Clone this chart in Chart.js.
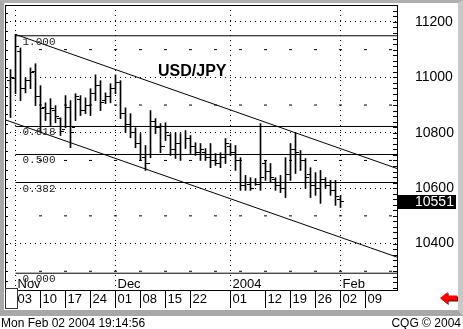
<!DOCTYPE html>
<html>
<head>
<meta charset="utf-8">
<script src="https://cdn.jsdelivr.net/npm/chart.js@4.4.1/dist/chart.umd.min.js"></script>
<style>
  html, body { margin: 0; padding: 0; background: #fff; }
  body { position: relative; width: 463px; height: 329px; overflow: hidden; font-family: "Liberation Sans", Arial, sans-serif; }
  #frame { position: absolute; left: 0; top: 0; width: 463px; height: 316px; box-sizing: border-box;
    border-style: solid; border-width: 3px 5px 6px 4px; border-color: #b0b0b0 #c8c8c8 #a8a8a8 #a8a8a8; }
  #chart { position: absolute; left: 0; top: 0; }
  #title { position: absolute; left: 158px; top: 63px; font: bold 16px/16px "Liberation Sans", Arial, sans-serif; color: #000; }
  #corner { position: absolute; left: 5px; top: 288px; width: 11px; height: 19px; border: 1px solid #333; background: #fff; }
  #arrow, #arrowShade { position: absolute; width: 17px; height: 12px;
    clip-path: polygon(0 50%, 45% 0, 45% 30%, 100% 30%, 100% 70%, 45% 70%, 45% 100%); }
  #arrowShade { left: 441px; top: 293px; background: #7a0000; }
  #arrow { left: 440px; top: 292px; background: #ff0000; }
  .status { position: absolute; top: 317px; font: 12px/12px "Liberation Sans", Arial, sans-serif; color: #000; }
</style>
</head>
<body>
<div id="frame"></div>
<canvas id="chart" width="463" height="316"></canvas>
<div id="title">USD/JPY</div>
<div id="corner"></div>
<div id="arrowShade"></div>
<div id="arrow"></div>
<div class="status" style="left:1px">Mon Feb 02 2004 19:14:56</div>
<div class="status" style="right:2px">CQG © 2004</div>
<script>
// USD/JPY daily bars, Oct 31 2003 .. Feb 02 2004 (trading-day slots, Nov 03 = 0)
const firstDay = -1;
const highs = [11028, 11155, 11106, 10998, 11034, 11049, 10970, 10908, 10923, 10898,
  10854, 10934, 10916, 10941, 10934, 10926, 10959, 11009, 10988, 10944,
  10977, 11009, 10988, 10890, 10869, 10818, 10797, 10754, 10880, 10851,
  10833, 10836, 10797, 10800, 10797, 10808, 10790, 10764, 10761, 10743,
  10761, 10725, 10728, 10779, 10761, 10754, 10710, 10646, 10638, 10635,
  10833, 10700, 10689, 10638, 10646, 10710, 10761, 10800, 10736, 10707,
  10674, 10656, 10664, 10638, 10628, 10628, 10574];
const lows = [10855, 10941, 10916, 10944, 10959, 10898, 10800, 10844, 10826, 10836,
  10790, 10818, 10746, 10844, 10862, 10869, 10862, 10916, 10880, 10905,
  10908, 10941, 10851, 10800, 10782, 10746, 10700, 10664, 10710, 10797,
  10728, 10772, 10718, 10707, 10700, 10743, 10725, 10718, 10700, 10700,
  10674, 10682, 10674, 10689, 10718, 10664, 10592, 10592, 10592, 10610,
  10592, 10628, 10620, 10592, 10584, 10566, 10628, 10653, 10664, 10599,
  10566, 10574, 10545, 10599, 10574, 10538, 10530];
const opens = [10990, 10995, 11095, 10960, 10990, 11020, 10930, 10890, 10870, 10880,
  10850, 10810, 10890, 10820, 10920, 10880, 10900, 10940, 10970, 10915,
  10930, 10960, 10980, 10870, 10830, 10800, 10760, 10710, 10690, 10840,
  10820, 10750, 10790, 10740, 10760, 10720, 10780, 10750, 10730, 10730,
  10710, 10700, 10690, 10710, 10750, 10730, 10700, 10610, 10615, 10620,
  10615, 10690, 10660, 10630, 10610, 10600, 10650, 10740, 10720, 10700,
  10650, 10610, 10600, 10630, 10610, 10590, 10560];
const closes = [10998, 11110, 10959, 10988, 11016, 10930, 10887, 10870, 10887, 10860,
  10805, 10890, 10800, 10930, 10880, 10900, 10940, 10970, 10910, 10930,
  10960, 10980, 10870, 10830, 10800, 10760, 10720, 10690, 10840, 10820,
  10750, 10800, 10740, 10760, 10720, 10780, 10750, 10730, 10740, 10710,
  10700, 10690, 10710, 10760, 10730, 10700, 10610, 10620, 10600, 10615,
  10640, 10660, 10640, 10610, 10600, 10650, 10740, 10730, 10700, 10640,
  10610, 10600, 10630, 10610, 10590, 10570, 10551];

const weekTicks = [0, 5, 10, 15, 20, 25, 30, 35, 43, 50, 55, 60, 65, 70];
const weekLabels = ['03', '10', '17', '24', '01', '08', '15', '22', '01', '12', '19', '26', '02', '09'];
const monthTicks = [0, 20, 43, 65];
const monthLabels = ['Nov', 'Dec', '2004', 'Feb'];
const priceTicks = [10400, 10600, 10800, 11000, 11200];

// Fibonacci retracement and trend channel
const fibHigh = 11150;
const fibLow = 10293;
const fibStart = 0;
const fibRatios = [1, 0.618, 0.5, 0.382, 0];
const fibLabels = ['1.000', '0.618', '0.500', '0.382', '0.000'];
const channelUpper = [{ x: 0, y: 11155 }, { x: 76.3, y: 10671 }];
const channelLower = [{ x: -2.1, y: 10847 }, { x: 76.3, y: 10351 }];

// minor grid marks
const dashWeeks = [5, 10, 15, 20, 25, 30, 35, 40, 45, 50, 55, 60, 65, 70, 75];
const midLevels = [11100, 10900, 10700, 10500, 10300];

const xMin = -2.1, xMax = 76.3;
const yMin = 10232.4, yMax = 11261.1;
const FONT = '"Liberation Sans", Arial, sans-serif';

const days = highs.map((_, k) => firstDay + k);

function tickMark(side) {
  const c = document.createElement('canvas');
  c.width = 7;
  c.height = 1;
  const g = c.getContext('2d');
  g.fillStyle = '#000';
  g.fillRect(side === 'left' ? 0 : 4, 0, 3, 1);
  return c;
}

const fibValues = fibRatios.map((r) => fibLow + r * (fibHigh - fibLow));

const lineSet = (data) => ({
  type: 'line',
  data: data,
  borderColor: '#000',
  borderWidth: 1,
  pointRadius: 0,
});

// frame, inner axis ticks, month names, fib labels, last price box
const decor = {
  id: 'decor',
  afterDraw(chart) {
    const { ctx, chartArea: a, scales: { x, y } } = chart;
    ctx.save();
    ctx.strokeStyle = '#000';
    ctx.lineWidth = 1;
    ctx.strokeRect(a.left + 0.5, a.top + 0.5, a.right - a.left, a.bottom - a.top);

    ctx.beginPath();
    for (let v = Math.ceil(y.min / 20) * 20; v <= y.max; v += 20) {
      const py = Math.round(y.getPixelForValue(v)) + 0.5;
      ctx.moveTo(a.right - 4, py);
      ctx.lineTo(a.right, py);
    }
    for (let v = 11200 + 100; v >= y.min; v -= 100 / 3) {
      if (v > y.max) continue;
      const py = Math.round(y.getPixelForValue(v)) + 0.5;
      ctx.moveTo(a.left, py);
      ctx.lineTo(a.left + 3, py);
    }
    ctx.stroke();

    ctx.fillStyle = '#000';
    ctx.textBaseline = 'alphabetic';
    ctx.textAlign = 'left';
    ctx.font = '13px ' + FONT;
    monthTicks.forEach((v, k) => {
      ctx.fillText(monthLabels[k], x.getPixelForValue(v) + 2, a.bottom - 2);
    });

    ctx.font = '11px "Liberation Mono", monospace';
    ctx.fillStyle = '#222';
    fibValues.forEach((v, k) => {
      ctx.fillText(fibLabels[k], x.getPixelForValue(fibStart) + 7, y.getPixelForValue(v) + 9);
    });

    const last = closes[closes.length - 1];
    const py = Math.round(y.getPixelForValue(last));
    ctx.fillStyle = '#000';
    ctx.fillRect(a.right, py - 7, 59, 14);
    ctx.fillStyle = '#fff';
    ctx.font = '14px ' + FONT;
    ctx.textBaseline = 'middle';
    ctx.fillText(String(last), a.right + 18, py);
    ctx.restore();
  },
};

new Chart(document.getElementById('chart'), {
  type: 'bar',
  data: {
    datasets: [
      ...fibValues.map((v) => lineSet([{ x: fibStart, y: v }, { x: xMax, y: v }])),
      lineSet(channelUpper),
      lineSet(channelLower),
      {
        type: 'scatter',
        data: midLevels.flatMap((v) => dashWeeks.map((w) => ({ x: w, y: v }))),
        pointStyle: 'line',
        pointRadius: 1.5,
        borderColor: '#000',
        borderWidth: 1,
      },
      {
        type: 'bar',
        data: days.map((d, k) => ({ x: d, y: [lows[k], highs[k]] })),
        backgroundColor: '#000',
        borderWidth: 0,
        barThickness: 1,
      },
      {
        type: 'scatter',
        data: days.map((d, k) => ({ x: d, y: opens[k] })),
        pointStyle: tickMark('left'),
      },
      {
        type: 'scatter',
        data: days.map((d, k) => ({ x: d, y: closes[k] })),
        pointStyle: tickMark('right'),
      },
    ],
  },
  options: {
    responsive: false,
    animation: false,
    events: [],
    layout: { padding: { left: 5, top: 4, right: 6, bottom: 6 } },
    plugins: {
      legend: { display: false },
      tooltip: { enabled: false },
      title: { display: false },
    },
    scales: {
      x: {
        type: 'linear',
        position: 'bottom',
        min: xMin,
        max: xMax,
        offset: false,
        afterBuildTicks: (s) => {
          s.ticks = weekTicks.map((v) => ({ value: v }));
        },
        afterFit: (s) => {
          s.height = 20;
        },
        ticks: {
          autoSkip: false,
          maxRotation: 0,
          align: 'start',
          padding: -16,
          labelOffset: 2,
          color: '#000',
          font: { family: FONT, size: 13 },
          callback: (v, i) => weekLabels[i],
        },
        grid: {
          offset: false,
          drawOnChartArea: true,
          color: (c) => (c.tick && monthTicks.includes(c.tick.value) ? '#000' : 'rgba(0,0,0,0)'),
          tickColor: '#000',
          tickLength: 18,
          lineWidth: 1,
        },
        border: { display: true, color: '#000', dash: [1, 4] },
      },
      y: {
        type: 'linear',
        position: 'right',
        min: yMin,
        max: yMax,
        afterBuildTicks: (s) => {
          s.ticks = priceTicks.map((v) => ({ value: v }));
        },
        afterFit: (s) => {
          // fixed axis width, no extra room above/below the plot
          s.width = 60;
          s.paddingTop = 0;
          s.paddingBottom = 0;
        },
        ticks: {
          autoSkip: false,
          padding: 18,
          color: '#000',
          font: { family: FONT, size: 14 },
          callback: (v) => String(v),
        },
        grid: { drawOnChartArea: true, drawTicks: false, color: '#000', lineWidth: 1 },
        border: { display: true, color: '#000', dash: [1, 4] },
      },
    },
  },
  plugins: [decor],
});
</script>
</body>
</html>
